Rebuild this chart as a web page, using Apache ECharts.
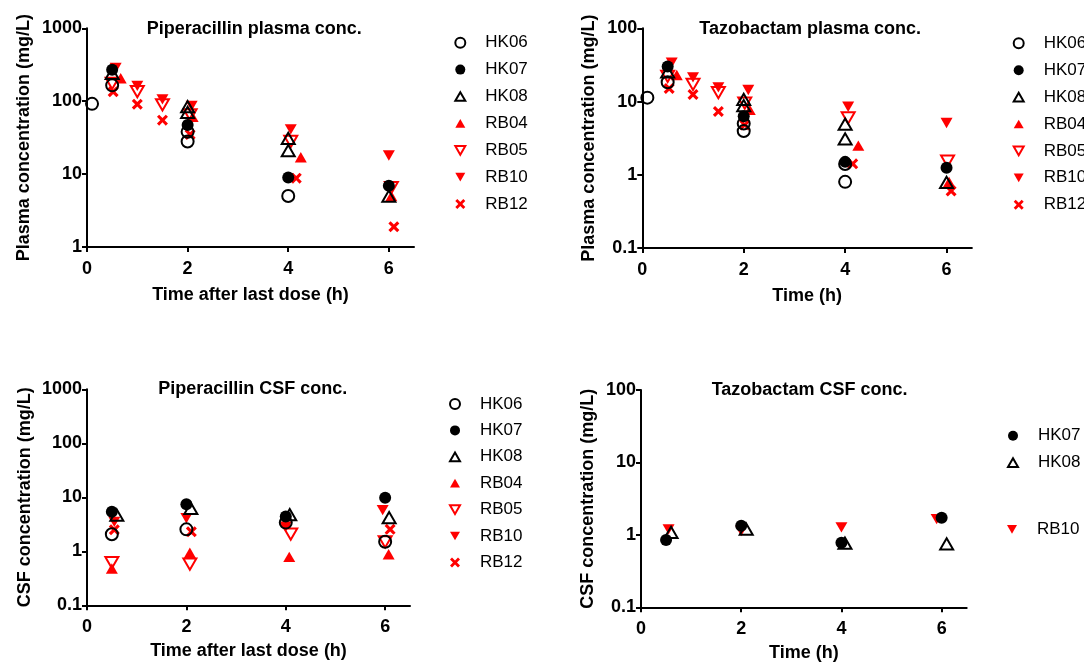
<!DOCTYPE html>
<html>
<head>
<meta charset="utf-8">
<title>Piperacillin / Tazobactam conc.</title>
<script src="https://cdn.jsdelivr.net/npm/echarts@6/dist/echarts.min.js"></script>
<style>
html, body { margin: 0; padding: 0; background: #fff; }
#main { width: 1084px; height: 662px; }
</style>
</head>
<body>
<div id="main"></div>
<script>
// subjects, in legend order
const subjects = ['HK06', 'HK07', 'HK08', 'RB04', 'RB05', 'RB10', 'RB12'];
const timeTicks = [0, 2, 4, 6];

// [subject, time (h), concentration (mg/L)]
const pipPlasma = [
	['HK06', 0.1, 92], ['HK06', 0.5, 165], ['HK06', 2, 38], ['HK06', 2, 28], ['HK06', 4, 5.0],
	['HK07', 0.5, 270], ['HK07', 2, 47], ['HK07', 4, 9], ['HK07', 6, 6.9],
	['HK08', 0.5, 240], ['HK08', 2, 84], ['HK08', 2, 70], ['HK08', 4, 31], ['HK08', 4, 21], ['HK08', 6, 5.0],
	['RB04', 0.67, 206], ['RB04', 2.1, 61], ['RB04', 4.25, 17], ['RB04', 6.05, 5.0],
	['RB05', 0.5, 175], ['RB05', 1, 135], ['RB05', 1.5, 89], ['RB05', 2.05, 65], ['RB05', 4.05, 28], ['RB05', 6.05, 6.5],
	['RB10', 0.57, 285], ['RB10', 1, 162], ['RB10', 1.5, 106], ['RB10', 2.08, 86], ['RB10', 4.05, 41], ['RB10', 6, 18],
	['RB12', 0.52, 135], ['RB12', 1, 91], ['RB12', 1.5, 55], ['RB12', 2.05, 35], ['RB12', 4.16, 8.8], ['RB12', 6.1, 1.9]
];
const tazoPlasma = [
	['HK06', 0.1, 11.3], ['HK06', 0.5, 18.3], ['HK06', 2, 5.0], ['HK06', 2, 3.95], ['HK06', 4, 1.4], ['HK06', 4, 0.8],
	['HK07', 0.5, 30], ['HK07', 2, 6.3], ['HK07', 4, 1.5], ['HK07', 6, 1.25],
	['HK08', 0.5, 25.5], ['HK08', 2, 10.7], ['HK08', 2, 8.8], ['HK08', 4, 4.9], ['HK08', 4, 3.1], ['HK08', 6, 0.79],
	['RB04', 0.68, 23], ['RB04', 2.12, 7.7], ['RB04', 4.26, 2.5], ['RB04', 6.05, 0.8],
	['RB05', 0.5, 22], ['RB05', 1, 17.2], ['RB05', 1.5, 13.2], ['RB05', 2.02, 9.5], ['RB05', 4.06, 6.0], ['RB05', 6.02, 1.54],
	['RB10', 0.58, 33.9], ['RB10', 1, 21.4], ['RB10', 1.5, 15.6], ['RB10', 2.09, 14.4], ['RB10', 4.06, 8.5], ['RB10', 6, 5.1],
	['RB12', 0.53, 15.1], ['RB12', 1, 12.5], ['RB12', 1.5, 7.3], ['RB12', 2.02, 4.8], ['RB12', 4.15, 1.41], ['RB12', 6.09, 0.6]
];
const pipCsf = [
	['HK06', 0.5, 2.07], ['HK06', 2, 2.55], ['HK06', 4, 3.4], ['HK06', 6, 1.5],
	['HK07', 0.5, 5.4], ['HK07', 2, 7.4], ['HK07', 4, 4.4], ['HK07', 6, 9.8],
	['HK08', 0.6, 4.7], ['HK08', 2.09, 6.25], ['HK08', 4.08, 4.8], ['HK08', 6.08, 4.2],
	['RB04', 0.5, 0.48], ['RB04', 2.07, 0.94], ['RB04', 4.07, 0.79], ['RB04', 6.07, 0.88],
	['RB05', 0.5, 0.62], ['RB05', 2.07, 0.58], ['RB05', 4.1, 2.07], ['RB05', 6, 1.5],
	['RB10', 0.55, 3.5], ['RB10', 2, 4.1], ['RB10', 4, 2.86], ['RB10', 5.95, 5.8],
	['RB12', 0.55, 2.5], ['RB12', 2.1, 2.3], ['RB12', 4, 3.5], ['RB12', 6.1, 2.55]
];
const tazoCsf = [
	['HK07', 0.5, 0.85], ['HK07', 2, 1.34], ['HK07', 4, 0.78], ['HK07', 6, 1.72],
	['HK08', 0.6, 1.08], ['HK08', 2.1, 1.2], ['HK08', 4.07, 0.77], ['HK08', 6.1, 0.75],
	['RB10', 0.55, 1.19], ['RB10', 2, 1.13], ['RB10', 4, 1.27], ['RB10', 5.9, 1.65]
];

const RED = '#ff0000';
const FONT = '"Liberation Sans", Arial, sans-serif';
const crossPath = 'path://M0,2 L2,0 L5,3 L8,0 L10,2 L7,5 L10,8 L8,10 L5,7 L2,10 L0,8 L3,5 Z';
const downPath = 'path://M0,0 L10,0 L5,8.66 Z';
const upPath = 'path://M5,0 L10,8.66 L0,8.66 Z';

// marker look per subject
function markerOf(name) {
	const open = { color: 'rgba(0,0,0,0)', borderWidth: 2, opacity: 1 };
	switch (name) {
		case 'HK06': return { symbol: 'circle', size: 12, style: Object.assign({ borderColor: '#000' }, open) };
		case 'HK07': return { symbol: 'circle', size: 12, style: { color: '#000', opacity: 1 } };
		case 'HK08': return { symbol: upPath, size: 13, style: Object.assign({ borderColor: '#000' }, open) };
		case 'RB04': return { symbol: upPath, size: 12, style: { color: RED, opacity: 1 } };
		case 'RB05': return { symbol: downPath, size: 13, style: Object.assign({ borderColor: RED }, open) };
		case 'RB10': return { symbol: downPath, size: 12, style: { color: RED, opacity: 1 } };
		default: return { symbol: crossPath, size: 11, style: { color: RED, opacity: 1 } };
	}
}

function makeSeries(rows, idx) {
	let list = [];
	// red drawn first, black on top
	subjects.slice().reverse().forEach(function (s) {
		let pts = rows.filter(r => r[0] === s).map(r => [r[1], r[2]]);
		if (!pts.length) return;
		let m = markerOf(s);
		list.push({
			name: s,
			type: 'scatter',
			xAxisIndex: idx,
			yAxisIndex: idx,
			data: pts,
			symbol: m.symbol,
			symbolSize: m.size,
			symbolKeepAspect: true,
			itemStyle: m.style,
			emphasis: { disabled: true }
		});
	});
	return list;
}

const grids = [
	{ left: 87, top: 28.3, width: 327, height: 218.7 },
	{ left: 642.3, top: 28.3, width: 329.6, height: 219.7 },
	{ left: 87, top: 389.3, width: 323, height: 216 },
	{ left: 641, top: 390, width: 325.7, height: 217.3 }
];
const xNames = ['Time after last dose (h)', 'Time (h)', 'Time after last dose (h)', 'Time (h)'];
const yNames = ['Plasma concentration (mg/L)', 'Plasma concentration (mg/L)', 'CSF concentration (mg/L)', 'CSF concentration (mg/L)'];
const yRanges = [[1, 1000], [0.1, 100], [0.1, 1000], [0.1, 100]];
const yNameGaps = [54, 44, 53, 44];
const xNameGaps = [39, 39, 37, 37];

const axisLine = { show: true, lineStyle: { color: '#000', width: 2 } };
const axisTick = { show: true, inside: false, length: 5, lineStyle: { color: '#000', width: 2 } };
const labelStyle = { color: '#000', fontSize: 18, fontWeight: 'bold', fontFamily: FONT };

const xAxes = grids.map((g, i) => ({
	type: 'value',
	gridIndex: i,
	min: 0,
	max: 6.5,
	name: xNames[i],
	nameLocation: 'middle',
	nameGap: xNameGaps[i],
	nameTextStyle: labelStyle,
	axisLine: axisLine,
	axisTick: Object.assign({ customValues: timeTicks }, axisTick),
	axisLabel: Object.assign({ customValues: timeTicks, margin: 13 }, labelStyle),
	splitLine: { show: false }
}));
const yAxes = grids.map((g, i) => ({
	type: 'log',
	logBase: 10,
	gridIndex: i,
	min: yRanges[i][0],
	max: yRanges[i][1],
	name: yNames[i],
	nameLocation: 'middle',
	nameRotate: 90,
	nameGap: yNameGaps[i],
	nameTextStyle: labelStyle,
	axisLine: axisLine,
	axisTick: axisTick,
	minorTick: { show: false },
	axisLabel: Object.assign({ margin: 5, formatter: v => String(+v.toPrecision(6)) }, labelStyle),
	splitLine: { show: false }
}));

const titleStyle = { color: '#000', fontSize: 18, fontWeight: 'bold', fontFamily: FONT };
const titles = [
	{ text: 'Piperacillin plasma conc.', left: 146.7, top: 20 },
	{ text: 'Tazobactam plasma conc.', left: 699.3, top: 20 },
	{ text: 'Piperacillin CSF conc.', left: 158.3, top: 380 },
	{ text: 'Tazobactam CSF conc.', left: 711.7, top: 381 }
].map(t => Object.assign({ padding: 0, textStyle: titleStyle }, t));

function legendAt(names, left, top, gap) {
	return {
		data: names.map(n => ({ name: n, icon: markerOf(n).symbol })),
		orient: 'vertical',
		left: left,
		top: top,
		padding: 0,
		itemGap: gap,
		itemWidth: 10,
		itemHeight: 10,
		selectedMode: false,
		textStyle: { color: '#000', fontSize: 17, fontFamily: FONT, lineHeight: 17, padding: [0, 0, 0, 15] }
	};
}

const legends = [
	legendAt(subjects, 454.3, 34.2, 9.9),
	legendAt(subjects, 1012.7, 34.8, 9.9),
	legendAt(subjects, 449, 395.5, 9.4),
	legendAt(['HK07', 'HK08'], 1007, 427.2, 10),
	legendAt(['RB10'], 1007, 520.8, 10)
];

const chart = echarts.init(document.getElementById('main'), null, { renderer: 'canvas' });
chart.setOption({
	backgroundColor: '#fff',
	animation: false,
	title: titles,
	legend: legends,
	grid: grids.map(g => Object.assign({ containLabel: false, outerBoundsMode: 'none' }, g)),
	xAxis: xAxes,
	yAxis: yAxes,
	series: [].concat(
		makeSeries(pipPlasma, 0),
		makeSeries(tazoPlasma, 1),
		makeSeries(pipCsf, 2),
		makeSeries(tazoCsf, 3)
	)
});
</script>
</body>
</html>
